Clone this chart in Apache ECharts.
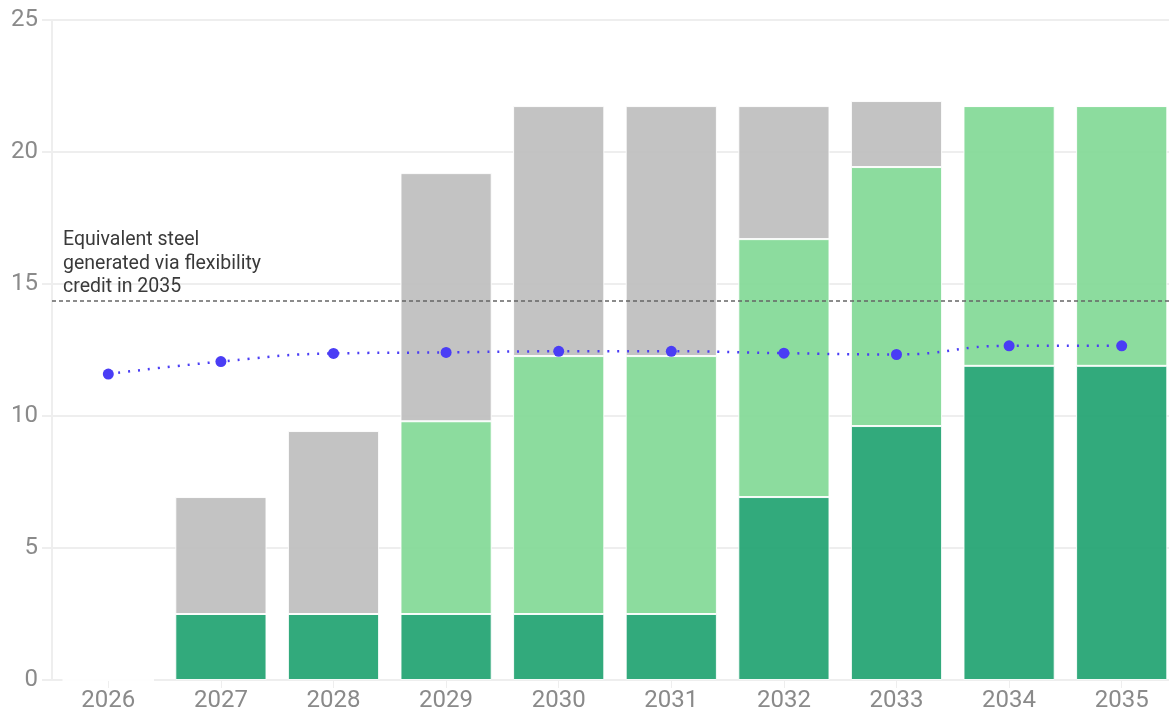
<!DOCTYPE html>
<html>
<head>
<meta charset="utf-8">
<script src="https://cdn.jsdelivr.net/npm/echarts@6/dist/echarts.min.js"></script>
<style>html,body{margin:0;padding:0;background:#fff}#c{width:1169px;height:717px}</style>
</head>
<body>
<div id="c"></div>
<script>
const years = ['2026','2027','2028','2029','2030','2031','2032','2033','2034','2035'];
const darkGreen = [0, 2.5, 2.5, 2.5, 2.5, 2.5, 6.93, 9.62, 11.9, 11.9];
const lightGreen = [0, 0, 0, 7.3, 9.77, 9.77, 9.77, 9.81, 9.84, 9.84];
const gray = [0, 4.43, 6.93, 9.4, 9.47, 9.47, 5.04, 2.5, 0, 0];
const lineValues = [11.59, 12.06, 12.37, 12.41, 12.45, 12.45, 12.38, 12.33, 12.66, 12.66];
const refValue = 14.35;
const refLabel = 'Equivalent steel\ngenerated via flexibility\ncredit in 2035';
const yTicks = [0, 5, 10, 15, 20, 25];

const chart = echarts.init(document.getElementById('c'));
const barStyle = (c) => ({ color: c, opacity: 0.9, borderColor: '#fff', borderWidth: 1 });
chart.setOption({
  animation: false,
  grid: { left: 52, width: 1126, top: 20, bottom: 37, containLabel: false, outerBoundsMode: 'none' },
  xAxis: {
    type: 'category', data: years,
    axisLine: { show: true, lineStyle: { color: '#eeeeee', width: 2 } },
    axisTick: { show: true, alignWithLabel: true, length: 8, lineStyle: { color: '#eeeeee', width: 1 } },
    axisLabel: { color: '#8a8a8a', fontSize: 24, fontFamily: 'Roboto', margin: 9 }
  },
  yAxis: {
    type: 'value', min: 0, max: 25, interval: 5,
    axisLine: { show: true, lineStyle: { color: '#eeeeee', width: 2 } },
    axisTick: { show: true, length: 10, lineStyle: { color: '#eeeeee', width: 2 } },
    axisLabel: { color: '#8a8a8a', fontSize: 24, fontFamily: 'Roboto', margin: 14,
      formatter: v => yTicks.includes(v) ? String(v) : '' },
    splitLine: { show: true, lineStyle: { color: '#eeeeee', width: 2 } }
  },
  series: [
    { type: 'bar', stack: 's', data: darkGreen, barCategoryGap: '19%', itemStyle: barStyle('#1ca16e') },
    { type: 'bar', stack: 's', data: lightGreen, itemStyle: barStyle('#7fd893') },
    { type: 'bar', stack: 's', data: gray, itemStyle: barStyle('#bdbdbd'),
      markLine: {
        silent: true, symbol: 'none',
        lineStyle: { color: '#666', type: [4, 3], width: 1.5 },
        label: { show: true, position: 'insideStartTop', formatter: refLabel, color: '#3a3a3a',
          fontSize: 19.5, fontFamily: 'Roboto', lineHeight: 23.5, align: 'left', distance: [11, 2] },
        data: [{ yAxis: refValue }]
      }
    },
    { type: 'line', data: lineValues, smooth: true, symbol: 'circle', symbolSize: 11,
      itemStyle: { color: '#4a3df5' },
      lineStyle: { color: '#4a3df5', type: [2, 8], width: 2.5 }, z: 5 }
  ]
});
</script>
</body>
</html>
